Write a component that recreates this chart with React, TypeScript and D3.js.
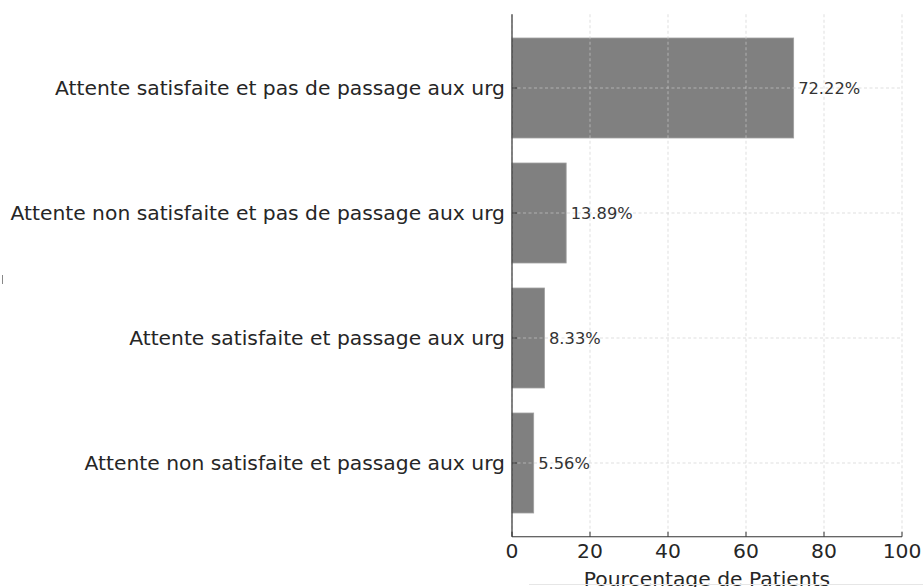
import React from "react";
import * as d3 from "d3";

const categories = [
  "Attente satisfaite et pas de passage aux urg",
  "Attente non satisfaite et pas de passage aux urg",
  "Attente satisfaite et passage aux urg",
  "Attente non satisfaite et passage aux urg",
];
const values = [72.22, 13.89, 8.33, 5.56];
const xTicks = [0, 20, 40, 60, 80, 100];
const xLabel = "Pourcentage de Patients";

const W = 923;
const H = 587;
const left = 512;
const right = 902;
const top = 14.25;
const bottom = 536.75;
const FONT = "DejaVu Sans, sans-serif";

export default function App() {
  const x = d3.scaleLinear().domain([0, 100]).range([left, right]);
  // matplotlib-like: positions 0..3, bar height 0.8, 5% margins
  const y = d3.scaleLinear().domain([-0.59, 3.59]).range([top, bottom]);
  const barH = y(0.4) - y(-0.4);

  return (
    <svg
      width={W}
      height={H}
      style={{ position: "absolute", left: 0, top: 0, background: "#fff" }}
      fontFamily={FONT}
    >
      {/* bars */}
      {values.map((v, i) => (
        <rect
          key={"b" + i}
          x={x(0)}
          y={y(i) - barH / 2}
          width={x(v) - x(0)}
          height={barH}
          fill="#808080"
          stroke="#a0a0a0"
          strokeWidth={0.8}
        />
      ))}
      {/* grid */}
      {xTicks.map((t) => (
        <line
          key={"gx" + t}
          x1={x(t)}
          x2={x(t)}
          y1={top}
          y2={bottom}
          stroke="#cccccc"
          strokeOpacity={0.8}
          strokeDasharray="3,2.5"
          strokeWidth={0.8}
        />
      ))}
      {categories.map((c, i) => (
        <line
          key={"gy" + i}
          x1={left}
          x2={right}
          y1={y(i)}
          y2={y(i)}
          stroke="#cccccc"
          strokeOpacity={0.8}
          strokeDasharray="3,2.5"
          strokeWidth={0.8}
        />
      ))}
      {/* spines */}
      <line x1={left} x2={left} y1={top} y2={bottom} stroke="#333" strokeWidth={1.2} />
      <line x1={left} x2={right} y1={bottom} y2={bottom} stroke="#333" strokeWidth={1.2} />
      {/* y ticks (inward) */}
      {categories.map((c, i) => (
        <g key={"yt" + i}>
          <line x1={left} x2={left + 5} y1={y(i)} y2={y(i)} stroke="#333" strokeWidth={1} />
          <text
            x={left - 7}
            y={y(i)}
            textAnchor="end"
            dominantBaseline="central"
            fontSize={20.3}
            fill="#262626"
          >
            {c}
          </text>
        </g>
      ))}
      {/* x ticks (inward) */}
      {xTicks.map((t) => (
        <g key={"xt" + t}>
          <line x1={x(t)} x2={x(t)} y1={bottom} y2={bottom - 5} stroke="#333" strokeWidth={1} />
          <text
            x={x(t)}
            y={bottom + 14.5}
            textAnchor="middle"
            dominantBaseline="central"
            fontSize={20.3}
            fill="#262626"
          >
            {t}
          </text>
        </g>
      ))}
      <text
        x={(left + right) / 2}
        y={bottom + 42}
        textAnchor="middle"
        dominantBaseline="central"
        fontSize={20.3}
        fill="#262626"
      >
        {xLabel}
      </text>
      {/* value labels */}
      {values.map((v, i) => (
        <text
          key={"v" + i}
          x={x(v) + 4.5}
          y={y(i)}
          dominantBaseline="central"
          fontSize={16.3}
          fill="#333"
        >
          {v.toFixed(2) + "%"}
        </text>
      ))}
      {/* small artefacts at edges */}
      <line x1={2.5} x2={2.5} y1={275} y2={284} stroke="#888" strokeWidth={1} />
      <line x1={529} x2={W} y1={584.5} y2={584.5} stroke="#e6e6e6" strokeWidth={1} />
    </svg>
  );
}
